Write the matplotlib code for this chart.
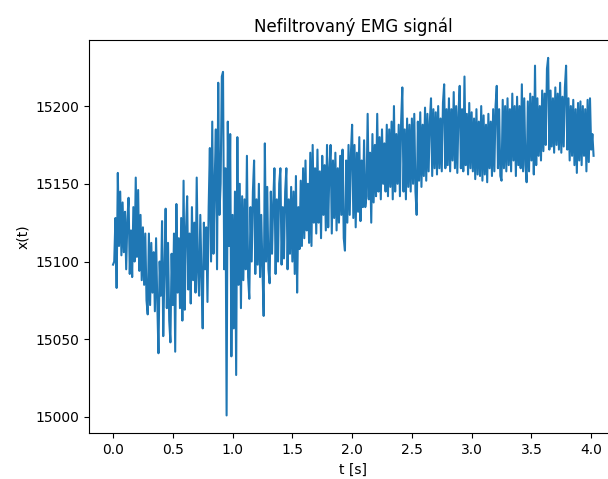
import numpy as np
import matplotlib
matplotlib.use("Agg")
import matplotlib.pyplot as plt

dt = 0.01

x_0s = [
    15098, 15100, 15128, 15083, 15157, 15110, 15145, 15104, 15138, 15106,
    15132, 15095, 15127, 15141, 15092, 15120, 15090, 15135, 15100, 15154,
    15103, 15146, 15094, 15130, 15088, 15122, 15085, 15118, 15075, 15066,
    15118, 15072, 15112, 15080, 15106, 15068, 15115, 15074, 15041, 15100,
    15078, 15126, 15052, 15095, 15134, 15070, 15112, 15062, 15048, 15105,
    15072, 15118, 15042, 15137, 15080, 15115, 15070, 15128, 15062, 15152,
    15069, 15120, 15142, 15082, 15118, 15073, 15135, 15088, 15125, 15080,
    15154, 15095, 15078, 15130, 15090, 15057, 15125, 15095, 15122, 15074,
    15135, 15173, 15100, 15190, 15105, 15150, 15185, 15095, 15215, 15130,
    15150, 15219, 15222, 15095, 15160, 15001, 15190, 15110, 15182, 15039,
]

x_1s = [
    15130, 15057, 15145, 15027, 15180, 15085, 15150, 15070, 15142, 15088,
    15140, 15095, 15168, 15090, 15076, 15135, 15100, 15145, 15165, 15092,
    15140, 15098, 15150, 15090, 15130, 15095, 15065, 15176, 15100, 15148,
    15095, 15086, 15145, 15105, 15138, 15160, 15092, 15140, 15100, 15150,
    15160, 15098, 15135, 15102, 15145, 15160, 15095, 15140, 15105, 15148,
    15100, 15145, 15092, 15155, 15080, 15135, 15108, 15152, 15110, 15160,
    15115, 15165, 15120, 15150, 15112, 15170, 15110, 15175, 15125, 15160,
    15118, 15172, 15125, 15158, 15115, 15168, 15130, 15162, 15120, 15175,
    15122, 15160, 15175, 15118, 15165, 15128, 15170, 15120, 15160, 15125,
    15168, 15130, 15172, 15115, 15107, 15165, 15125, 15175, 15130, 15170,
]

x_2s = [
    15188, 15128, 15175, 15122, 15170, 15132, 15180, 15126, 15165, 15135,
    15178, 15135, 15142, 15195, 15140, 15170, 15125, 15182, 15138, 15175,
    15142, 15195, 15145, 15180, 15140, 15185, 15150, 15176, 15145, 15188,
    15142, 15185, 15148, 15190, 15140, 15200, 15145, 15182, 15150, 15188,
    15142, 15190, 15212, 15145, 15185, 15140, 15192, 15148, 15188, 15145,
    15192, 15150, 15195, 15145, 15130, 15190, 15152, 15196, 15148, 15188,
    15155, 15199, 15152, 15195, 15158, 15190, 15205, 15155, 15198, 15160,
    15196, 15156, 15200, 15160, 15192, 15158, 15202, 15214, 15160, 15198,
    15162, 15205, 15158, 15198, 15165, 15209, 15160, 15200, 15157, 15196,
    15213, 15160, 15198, 15158, 15219, 15162, 15195, 15156, 15202, 15160,
]

x_3s = [
    15196, 15158, 15192, 15153, 15198, 15156, 15190, 15155, 15200, 15152,
    15194, 15156, 15188, 15151, 15195, 15160, 15190, 15155, 15198, 15158,
    15200, 15213, 15160, 15198, 15155, 15152, 15204, 15160, 15200, 15158,
    15205, 15162, 15198, 15158, 15208, 15165, 15200, 15155, 15206, 15162,
    15200, 15160, 15214, 15158, 15205, 15162, 15151, 15203, 15158, 15208,
    15165, 15206, 15156, 15226, 15162, 15205, 15168, 15200, 15165, 15210,
    15171, 15208, 15175, 15224, 15231, 15172, 15210, 15174, 15205, 15170,
    15212, 15175, 15208, 15172, 15215, 15170, 15206, 15174, 15212, 15226,
    15172, 15205, 15165, 15200, 15168, 15204, 15162, 15198, 15157, 15202,
    15165, 15203, 15162, 15200, 15168, 15198, 15158, 15204, 15164, 15205,
    15172, 15182, 15168,
]

signal = np.array(x_0s + x_1s + x_2s + x_3s, dtype=float)
t = np.arange(len(signal)) * dt

fig = plt.figure(figsize=(6.08, 4.79), dpi=100)
# axes runs a bit past the right edge of the picture (cropped like the original)
ax = fig.add_axes([0.1464, 0.0954, 0.8694, 0.8211])
ax.plot(t, signal)
ax.set_title("Nefiltrovaný EMG signál")
ax.set_xlabel("t [s]")
ax.set_ylabel("x(t)")
ax.set_xticks([0.0, 0.5, 1.0, 1.5, 2.0, 2.5, 3.0, 3.5, 4.0])
ax.spines["right"].set_visible(False)

fig.savefig("out.png", dpi=100)
